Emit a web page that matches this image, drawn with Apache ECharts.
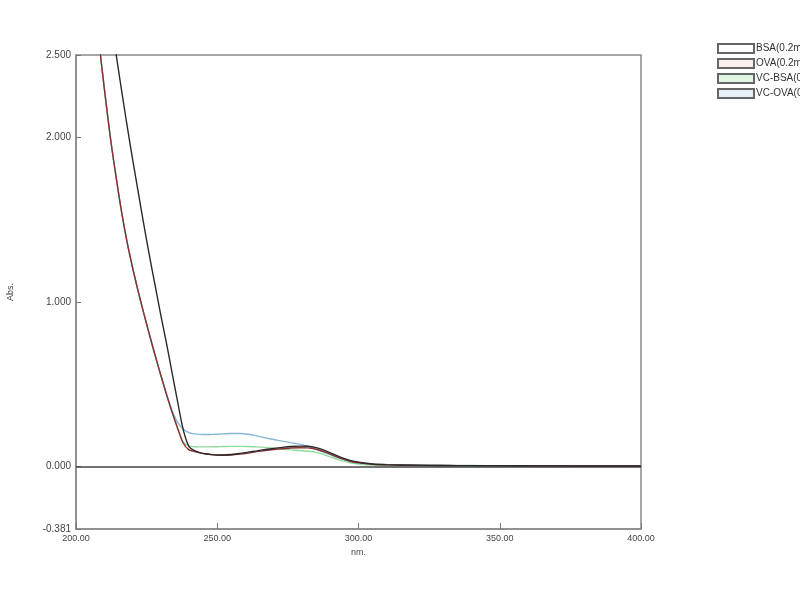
<!DOCTYPE html>
<html>
<head>
<meta charset="utf-8">
<script src="https://cdn.jsdelivr.net/npm/echarts@6/dist/echarts.min.js"></script>
<style>html,body{margin:0;padding:0;background:#fff}#c{width:800px;height:600px}</style>
</head>
<body>
<div id="c"></div>
<script>
var nm = [200,204,206,208,210,212,214,216,218,220,222,224,226,228,230,232,234,236,238,
  240,242,244,246,248,250,252,
  255,258,261,264,267,270,273,276,279,282,285,288,291,294,297,
  300,305,310,320,330,340,350,360,380,400];

var bsa = [5.0,4.2,3.85,3.45,3.1,2.8,2.53,2.3,2.08,1.87,1.67,1.47,1.28,1.1,0.92,0.75,0.57,0.39,0.22,
  0.12,0.095,0.082,0.075,0.071,0.069,0.069,
  0.072,0.078,0.086,0.094,0.102,0.109,0.115,0.12,0.123,0.122,0.114,0.097,0.075,0.053,0.036,
  0.025,0.014,0.01,0.007,0.005,0.004,0.004,0.003,0.002,0.002];

var ova = [4.0,3.25,2.92,2.6,2.3,2.02,1.78,1.56,1.37,1.21,1.065,0.93,0.8,0.675,0.555,0.44,0.33,0.23,0.14,
  0.1,0.09,0.082,0.076,0.071,0.068,0.067,
  0.069,0.074,0.081,0.089,0.096,0.102,0.107,0.111,0.113,0.112,0.104,0.088,0.067,0.047,0.031,
  0.021,0.012,0.009,0.006,0.005,0.004,0.003,0.003,0.002,0.002];

var vcBsa = [4.0,3.25,2.92,2.6,2.3,2.02,1.78,1.56,1.37,1.21,1.065,0.93,0.8,0.675,0.555,0.44,0.33,0.23,0.145,
  0.124,0.119,0.118,0.118,0.118,0.119,0.12,
  0.121,0.121,0.12,0.118,0.115,0.11,0.105,0.1,0.096,0.092,0.085,0.07,0.052,0.035,0.022,
  0.014,0.008,0.005,0.003,0.002,0.002,0.001,0.001,0.001,0.001];

var vcOva = [4.0,3.25,2.92,2.6,2.3,2.02,1.78,1.56,1.37,1.21,1.065,0.93,0.8,0.675,0.555,0.44,0.34,0.265,0.225,
  0.205,0.197,0.194,0.193,0.194,0.195,0.197,
  0.199,0.199,0.195,0.185,0.173,0.163,0.153,0.144,0.135,0.122,0.103,0.083,0.063,0.045,0.032,
  0.024,0.015,0.011,0.008,0.006,0.005,0.004,0.004,0.003,0.003];

var seriesNames = ['BSA(0.2mg/mL)','OVA(0.2mg/mL)','VC-BSA(0.2mg/mL)','VC-OVA(0.2mg/mL)'];
var yTicks = [-0.381, 0, 1, 2, 2.5];

function pairs(v){ return nm.map(function(x,i){ return [x, v[i]]; }); }

var font = 'Liberation Sans, Arial, sans-serif';
var chart = echarts.init(document.getElementById('c'));
var lineColors = ['#2a2a2a','#8a2f2f','#8fdc9c','#86b8d6'];
var fills = ['#ffffff','#fbf0f0','#e2f6e6','#e8f1f8'];

function mk(name, data, idx, z){
  return {
    name: name, type: 'line', data: pairs(data), showSymbol: false,
    smooth: 0.3,
    z: z, clip: true,
    lineStyle: {color: lineColors[idx], width: 1.4},
    itemStyle: {color: fills[idx], borderColor: '#666', borderWidth: 1}
  };
}

var s0 = mk(seriesNames[2], vcBsa, 2, 2);
s0.markLine = {silent: true, symbol: ['none','none'], label: {show:false},
  lineStyle: {color:'#444', width: 1.5, type:'solid'}, data: [{yAxis: 0}]};

chart.setOption({
  animation: false,
  backgroundColor: '#fff',
  grid: {left: 76, right: 159, top: 55, bottom: 71, outerBoundsMode: 'none', containLabel: false,
    show: true, borderColor: '#8a8a8a', borderWidth: 1.5, backgroundColor: 'transparent'},
  legend: {
    orient: 'vertical', left: 712, top: 38, itemWidth: 36, itemHeight: 9, itemGap: 4,
    icon: 'rect',
    textStyle: {fontFamily: font, fontSize: 10, color: '#333', padding: [0,0,0,-3]},
    data: seriesNames
  },
  xAxis: {
    type: 'value', min: 200, max: 400, interval: 50,
    name: 'nm.', nameLocation: 'middle', nameGap: 17,
    nameTextStyle: {fontFamily: font, fontSize: 9, color: '#444'},
    axisLine: {onZero: false, lineStyle: {color: '#8a8a8a', width: 1.5}},
    axisTick: {inside: true, length: 6, lineStyle: {color: '#777'}},
    axisLabel: {fontFamily: font, fontSize: 9, color: '#444', margin: 5,
      formatter: function(v){ return v.toFixed(2); }},
    splitLine: {show: false}
  },
  yAxis: {
    type: 'value', min: -0.381, max: 2.5,
    name: 'Abs.', nameLocation: 'middle', nameGap: 61,
    nameTextStyle: {fontFamily: font, fontSize: 9, color: '#444'},
    axisLine: {lineStyle: {color: '#8a8a8a', width: 1.5}},
    axisTick: {inside: true, length: 5, customValues: yTicks, lineStyle: {color: '#777'}},
    axisLabel: {fontFamily: font, fontSize: 10, color: '#444', margin: 5, customValues: yTicks,
      formatter: function(v){ return v.toFixed(3); }},
    splitLine: {show: false}
  },
  series: [
    s0,
    mk(seriesNames[3], vcOva, 3, 3),
    mk(seriesNames[1], ova, 1, 4),
    mk(seriesNames[0], bsa, 0, 5)
  ]
});
</script>
</body>
</html>
